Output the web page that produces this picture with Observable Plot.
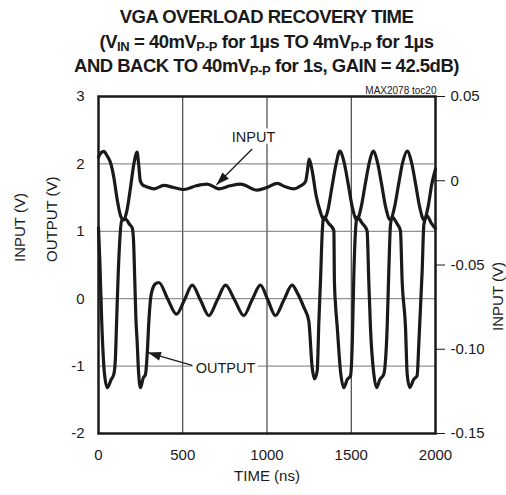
<!DOCTYPE html>
<html><head><meta charset="utf-8">
<script src="https://cdn.jsdelivr.net/npm/d3@7"></script>
<script src="https://cdn.jsdelivr.net/npm/@observablehq/plot@0.6"></script>
<style>
body{margin:0;background:#fff;font-family:"Liberation Sans",Arial,sans-serif;}
#title{box-sizing:border-box;width:506px;height:78px;padding:5px 0 0 27px;text-align:center;font-weight:bold;font-size:18.5px;letter-spacing:-0.5px;line-height:24.5px;color:#1a1a1a;white-space:nowrap;}
#title sub{font-size:13px;vertical-align:-3px;line-height:0;letter-spacing:-0.3px}
</style></head><body>
<div id="title">VGA OVERLOAD RECOVERY TIME<br>(V<sub>IN</sub> = 40mV<sub>P-P</sub> for 1µs TO 4mV<sub>P-P</sub> for 1µs<br>AND BACK TO 40mV<sub>P-P</sub> for 1s, GAIN = 42.5dB)</div>
<div id="chart"></div>
<script>
// ---- data ----
const timeTicks = [0, 500, 1000, 1500, 2000];
const timeGrid = [500, 1000, 1500];
const outputTicks = [-2, -1, 0, 1, 2, 3];
const outputGrid = [-1, 0, 1, 2];
const inputTicks = [0.05, 0, -0.05, -0.10, -0.15];

// INPUT trace (ns, volts on right axis)
const inputTime = [0,15,32,50,71,91,111,131,150,168,190,210,229,238,248,262,285,328,388,445,506,580,645,714,780,843,942,1000,1061,1110,1160,1200,1229,1240,1250,1268,1290,1315,1337,1360,1385,1410,1432,1457,1482,1507,1533,1558,1583,1608,1630,1655,1680,1705,1731,1756,1781,1806,1832,1857,1882,1907,1931,1955,1978,2000];
const inputVolts = [0.0140,0.0166,0.0174,0.0150,0.0108,0.0020,-0.0112,-0.0208,-0.0232,-0.0180,-0.0040,0.0100,0.0170,0.0100,0.0000,-0.0025,-0.0035,-0.0048,-0.0028,-0.0040,-0.0052,-0.0030,-0.0020,-0.0048,-0.0030,-0.0020,-0.0056,-0.0040,-0.0016,-0.0036,-0.0048,-0.0030,-0.0004,0.0060,0.0128,0.0060,-0.0080,-0.0180,-0.0232,-0.0180,-0.0040,0.0100,0.0176,0.0112,-0.0020,-0.0160,-0.0232,-0.0160,-0.0020,0.0112,0.0176,0.0112,-0.0020,-0.0160,-0.0232,-0.0160,-0.0020,0.0112,0.0176,0.0112,-0.0020,-0.0160,-0.0232,-0.0160,-0.0020,0.0070];

// OUTPUT trace (ns, volts on left axis)
const outputTime = [0,8,20,35,52,75,91,100,108,117,127,137,160,185,200,208,215,222,229,238,249,265,279,289,299,309,318,338,358,410,463,510,556,605,655,705,754,808,862,911,961,1005,1050,1100,1149,1179,1219,1248,1268,1282,1298,1308,1318,1328,1337,1365,1397,1400,1407,1417,1436,1456,1476,1496,1506,1515,1525,1535,1565,1594,1604,1614,1634,1650,1670,1693,1713,1723,1733,1743,1770,1792,1802,1822,1832,1847,1870,1891,1901,1921,1931,1950,1975,2000];
const outputVolts = [1.05,0.55,-0.40,-1.10,-1.32,-1.20,-1.12,-0.90,-0.30,0.37,0.90,1.16,1.18,1.10,1.05,0.86,0.30,-0.30,-0.62,-1.10,-1.32,-1.18,-1.12,-0.82,-0.33,0.00,0.12,0.22,0.24,0.00,-0.23,-0.02,0.20,-0.02,-0.25,-0.02,0.20,-0.02,-0.25,-0.02,0.20,-0.02,-0.25,-0.02,0.20,0.09,-0.13,-0.33,-1.02,-1.19,-1.07,-0.33,0.30,1.00,1.21,1.12,1.01,0.27,-0.10,-0.43,-1.07,-1.32,-1.20,-1.14,-0.67,0.32,1.00,1.21,1.12,1.01,0.27,-0.43,-1.12,-1.32,-1.20,-1.12,-0.43,0.42,1.10,1.21,1.12,1.01,0.27,-0.43,-1.12,-1.32,-1.20,-1.14,-0.67,0.42,1.10,1.23,1.12,1.04];

// annotations
const labelText = ["INPUT", "OUTPUT"];
const labelTime = [920, 754];
const labelVolts = [2.39, -1.04];
const arrowFromTime = [912, 556];
const arrowFromVolts = [2.22, -0.99];
const arrowToTime = [700, 293];
const arrowToVolts = [1.69, -0.80];

// ---- build ----
const toLeft = v => 1.75 + 25 * v; // right-axis volts -> left-axis position
const fmtRight = v => { const r = Math.round(v * 100) / 100; return r === 0 ? "0" : r.toFixed(2); };
const inputData = inputTime.map((t, i) => ({t, v: toLeft(inputVolts[i])}));
const outputData = outputTime.map((t, i) => ({t, v: outputVolts[i]}));
const labels = labelText.map((s, i) => ({s, t: labelTime[i], v: labelVolts[i]}));

const W = 506, H = 417, mT = 18, mB = 62, mL = 98, mR = 71;
const pxT = (W - mL - mR) / 2000, pxV = (H - mT - mB) / 5;
const arrows = arrowFromTime.map((t1, i) => {
  const t2 = arrowToTime[i], v1 = arrowFromVolts[i], v2 = arrowToVolts[i];
  const dx = (t2 - t1) * pxT, dy = -(v2 - v1) * pxV;
  return {t1, v1, t2, v2, rot: Math.atan2(dx, -dy) * 180 / Math.PI};
});
const arrowHead = {draw(ctx) { ctx.moveTo(0, 0); ctx.lineTo(-4.5, 13); ctx.lineTo(4.5, 13); ctx.closePath(); }};
const ink = "#1a1a1a";

const chart = Plot.plot({
  width: W, height: H, marginTop: mT, marginBottom: mB, marginLeft: mL, marginRight: mR,
  x: {domain: [0, 2000]},
  y: {domain: [-2, 3]},
  style: {fontFamily: "'Liberation Sans', Arial, sans-serif", fontSize: "15px", color: ink, background: "white"},
  marks: [
    Plot.gridX(timeGrid, {stroke: "#222", strokeOpacity: 1, strokeWidth: 1}),
    Plot.gridY(outputGrid, {stroke: "#777", strokeOpacity: 1, strokeWidth: 1}),
    Plot.axisX(timeTicks, {tickSize: 0, tickPadding: 16, label: null, fontSize: 15, tickFormat: d => String(d)}),
    Plot.axisY(outputTicks, {anchor: "left", tickSize: 0, tickPadding: 14, label: null, fontSize: 15, tickFormat: d => String(d)}),
    Plot.axisY(inputTicks.map(toLeft), {anchor: "right", tickSize: 9, tickPadding: 6, label: null, fontSize: 15, tickFormat: d => fmtRight((d - 1.75) / 25)}),
    Plot.text(labels, {x: "t", y: "v", text: "s", fontSize: 14.5, fill: ink, stroke: "white", strokeWidth: 7}),
    Plot.line(outputData, {x: "t", y: "v", stroke: ink, strokeWidth: 3.2, curve: "monotone-x"}),
    Plot.line(inputData, {x: "t", y: "v", stroke: ink, strokeWidth: 3.2, curve: "monotone-x"}),
    Plot.link(arrows, {x1: "t1", y1: "v1", x2: "t2", y2: "v2", stroke: ink, strokeWidth: 1.3}),
    Plot.dot(arrows, {x: "t2", y: "v2", symbol: arrowHead, r: 5, fill: ink, stroke: "none", rotate: "rot"}),
    Plot.frame({stroke: ink, strokeWidth: 2.5}),
    Plot.text(["TIME (ns)"], {frameAnchor: "bottom", dy: 47, fontSize: 15, fill: ink}),
    Plot.text(["OUTPUT (V)"], {frameAnchor: "left", dx: -46, dy: -3, rotate: -90, fontSize: 15, fill: ink}),
    Plot.text(["INPUT (V)"], {frameAnchor: "left", dx: -78, dy: -3, rotate: -90, fontSize: 15, fill: ink}),
    Plot.text(["INPUT (V)"], {frameAnchor: "right", dx: 63, dy: -3, rotate: -90, fontSize: 15, fill: ink}),
    Plot.text(["MAX2078 toc20"], {frameAnchor: "top-right", dx: 1, dy: -10, textAnchor: "end", fontSize: 10, fill: ink})
  ]
});
document.getElementById("chart").appendChild(chart);
</script>
</body></html>
